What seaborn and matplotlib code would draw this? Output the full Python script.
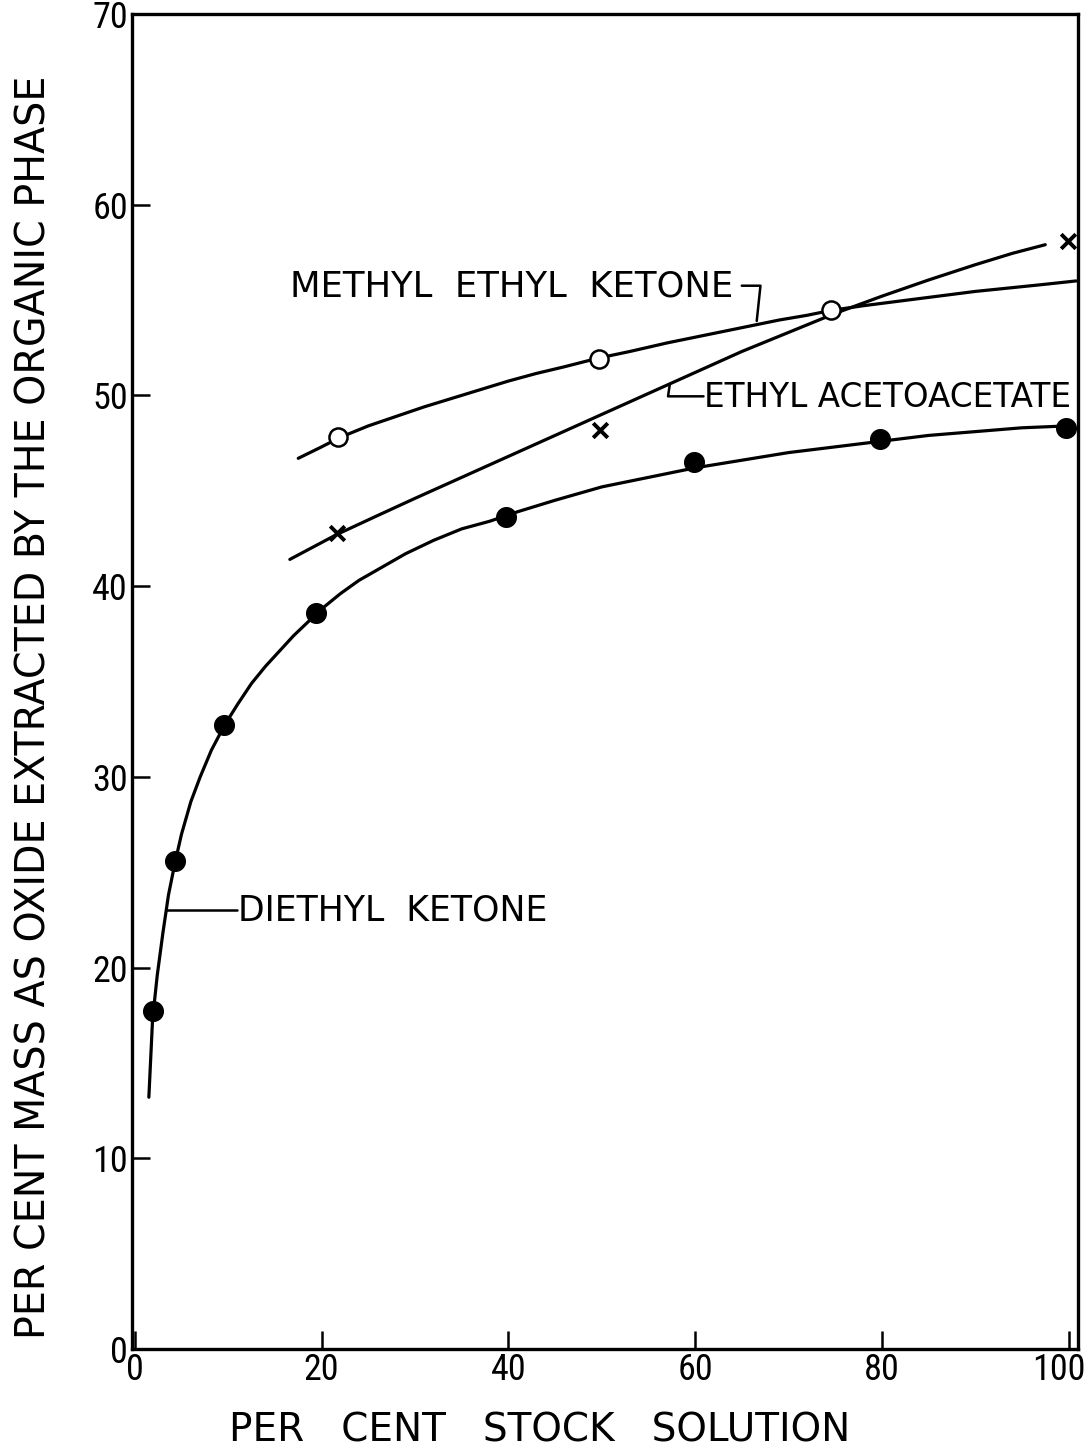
import matplotlib
matplotlib.use("Agg")
import matplotlib.pyplot as plt
import matplotlib.transforms as mtransforms
from matplotlib import font_manager
import seaborn as sns

# ---------------- data ----------------
# Diethyl ketone: measured points (filled circles) and drawn curve
dek_x = [1.9, 4.3, 9.6, 19.4, 39.8, 59.9, 79.8, 99.7]
dek_y = [17.7, 25.6, 32.7, 38.6, 43.6, 46.5, 47.7, 48.3]
dek_curve_x = [1.5, 1.9, 2.4, 3.0, 3.6, 4.3, 5.0, 6.0, 7.0, 8.2, 9.6, 11.0, 12.5, 14.0,
               15.5, 17.0, 18.5, 20.0, 22.0, 24.0, 26.5, 29.0, 32.0, 35.0, 38.0, 41.0,
               45.0, 50.0, 55.0, 60.0, 65.0, 70.0, 75.0, 80.0, 85.0, 90.0, 95.0, 99.9]
dek_curve_y = [13.2, 17.3, 19.6, 21.8, 23.8, 25.5, 27.0, 28.7, 30.0, 31.4, 32.7, 33.8, 34.9, 35.8,
               36.6, 37.4, 38.1, 38.8, 39.6, 40.3, 41.0, 41.7, 42.4, 43.0, 43.4, 43.9,
               44.5, 45.2, 45.7, 46.2, 46.6, 47.0, 47.3, 47.6, 47.9, 48.1, 48.3, 48.4]

# Methyl ethyl ketone: open circles and curve
mek_x = [21.8, 49.7, 74.5]
mek_y = [47.8, 51.9, 54.5]
mek_curve_x = [17.5, 20.0, 22.0, 25.0, 28.0, 31.0, 34.0, 37.0, 40.0, 43.0, 46.0, 49.6, 53.0,
               57.0, 61.0, 65.0, 69.0, 72.0, 74.5, 78.0, 82.0, 86.0, 90.0, 94.0, 97.0, 100.8]
mek_curve_y = [46.7, 47.3, 47.8, 48.4, 48.9, 49.4, 49.85, 50.3, 50.75, 51.15, 51.5, 51.95, 52.3,
               52.75, 53.15, 53.55, 53.95, 54.2, 54.45, 54.7, 54.95, 55.2, 55.45, 55.65, 55.8, 56.0]

# Ethyl acetoacetate: x marks and line
eaa_x = [21.6, 49.8, 99.9]
eaa_y = [42.8, 48.2, 58.1]
eaa_curve_x = [16.6, 21.6, 26.0, 30.0, 35.0, 40.0, 45.0, 50.0, 55.0, 60.0, 65.0, 70.0,
               75.0, 80.0, 85.0, 90.0, 94.0, 97.5]
eaa_curve_y = [41.4, 42.7, 43.7, 44.6, 45.7, 46.8, 47.9, 49.0, 50.1, 51.2, 52.3, 53.3,
               54.3, 55.2, 56.05, 56.85, 57.45, 57.9]

x_ticks = [0, 20, 40, 60, 80, 100]
y_ticks = [0, 10, 20, 30, 40, 50, 60, 70]

x_label = "PER   CENT   STOCK   SOLUTION"
y_label = "PER CENT MASS AS OXIDE EXTRACTED BY THE ORGANIC PHASE"

# ---------------- style ----------------
sns.set_theme(style="white")
available = {f.name for f in font_manager.fontManager.ttflist}
tick_font = "DejaVu Sans"
for cand in ["Roboto Condensed", "Liberation Sans Narrow", "DejaVu Sans Condensed"]:
    if cand in available:
        tick_font = cand
        break
plt.rcParams["font.family"] = ["DejaVu Sans"]

fig = plt.figure(figsize=(10.85, 14.51), dpi=100)
ax = fig.add_axes([0.1217, 0.0703, 0.8718, 0.9201])

lw = 2.3
for cx, cy in [(dek_curve_x, dek_curve_y), (mek_curve_x, mek_curve_y),
               (eaa_curve_x, eaa_curve_y)]:
    sns.lineplot(x=cx, y=cy, ax=ax, color="black", lw=lw, sort=False,
                 estimator=None, solid_joinstyle="round", solid_capstyle="round")

sns.scatterplot(x=dek_x, y=dek_y, ax=ax, marker="o", s=200, color="black",
                edgecolor="black", linewidth=1, zorder=5)
sns.scatterplot(x=mek_x, y=mek_y, ax=ax, marker="o", s=170, facecolor="white",
                edgecolor="black", linewidth=1.8, zorder=5)
sns.scatterplot(x=eaa_x, y=eaa_y, ax=ax, marker="x", s=110, color="black",
                linewidth=2.8, zorder=5)

ax.set_xlim(-0.3, 101.0)
ax.set_ylim(0, 70)
ax.set_xticks(x_ticks)
ax.set_yticks(y_ticks)
ax.set_xticklabels([str(t) for t in x_ticks], fontsize=26, family=tick_font)
ax.set_yticklabels([str(t) for t in y_ticks], fontsize=26, family=tick_font)
ax.tick_params(axis="both", direction="in", length=13, width=1.8, colors="black",
               pad=3, top=False, right=False, left=True, bottom=True)
ax.tick_params(axis="x", pad=2)
# nudge the "100" label left so it stays inside the figure (as in the reference)
lab = ax.get_xticklabels()[-1]
lab.set_transform(lab.get_transform() +
                  mtransforms.ScaledTranslation(-10 / 100, 0, fig.dpi_scale_trans))
for s in ax.spines.values():
    s.set_visible(True)
    s.set_color("black")
    s.set_linewidth(2.4)

ax.set_xlabel(x_label, fontsize=28, color="black")
ax.xaxis.set_label_coords(0.431, -0.047)
ax.xaxis.label.set_va("top")
ax.set_ylabel(y_label, fontsize=28.5, color="black")
ax.yaxis.set_label_coords(-0.082, 0.481)

# ---------------- annotations ----------------
txt_kw = dict(color="black", va="center", ha="left")
ax.text(16.6, 55.7, "METHYL  ETHYL  KETONE", fontsize=25.5, **txt_kw)
ax.plot([65.0, 67.0, 66.6], [55.75, 55.75, 53.9], color="black", lw=1.8)

ax.text(61.0, 49.9, "ETHYL ACETOACETATE", fontsize=23.5, **txt_kw)
ax.plot([57.3, 57.1, 60.9], [50.6, 49.95, 49.95], color="black", lw=1.8)

ax.text(11.0, 23.0, "DIETHYL  KETONE", fontsize=25, **txt_kw)
ax.plot([3.4, 10.9], [23.0, 23.0], color="black", lw=1.8)

fig.savefig("out.png", dpi=100, facecolor="white")
